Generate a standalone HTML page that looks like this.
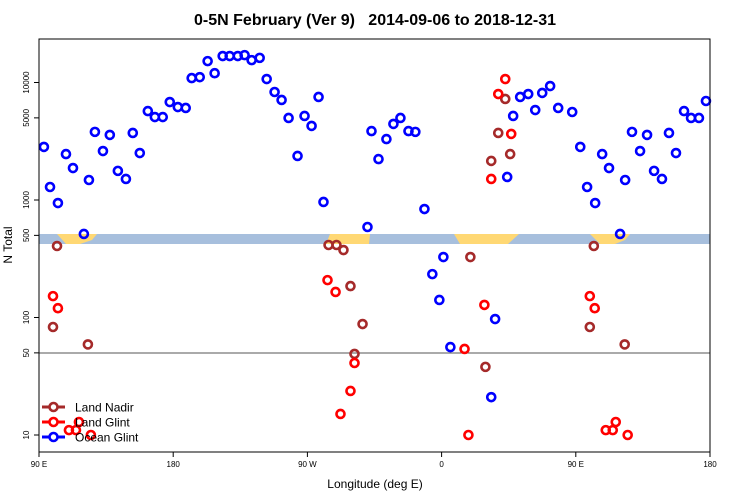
<!DOCTYPE html>
<html><head><meta charset="utf-8"><style>
body{margin:0;background:#fff;}
svg{display:block;font-family:"Liberation Sans",sans-serif;}
</style></head><body>
<svg id="chart" width="750" height="500" viewBox="0 0 750 500" xmlns="http://www.w3.org/2000/svg">
<text x="375" y="25" text-anchor="middle" font-size="16" font-weight="bold" style="white-space:pre">0-5N February (Ver 9)   2014-09-06 to 2018-12-31</text>
<g id="band">
<rect x="39" y="234" width="671" height="10" fill="#a7bfdd"/>
<path d="M57 234 L97 234 L92 240 L80 244 L66 244 Z" fill="#ffd874"/>
<path d="M330 234 L370 234 L369 244 L326 244 Z" fill="#ffd874"/>
<path d="M454 234 L519 234 L508 244 L460 244 Z" fill="#ffd874"/>
<path d="M590 234 L630 234 L625 240 L615 244 L600 244 Z" fill="#ffd874"/>
</g>
<line x1="39" x2="710" y1="353" y2="353" stroke="#555" stroke-width="1"/>
<g id="axes"></g>
<g id="marks"></g>
<rect x="39" y="39" width="671" height="413" fill="none" stroke="#000" stroke-width="1"/>
<text x="375" y="488" text-anchor="middle" font-size="12">Longitude (deg E)</text>
<text transform="translate(12,245) rotate(-90)" text-anchor="middle" font-size="12">N Total</text>
<g id="legend"></g>
</svg>
<script>
const xTickVals=[90,180,270,360,450,540];
const xTickLabels=["90 E","180","90 W","0","90 E","180"];
const yTickVals=[10,50,100,500,1000,5000,10000];
const yTickLabels=["10","50","100","500","1000","5000","10000"];
const seriesNames=["Land Nadir","Land Glint","Ocean Glint"];
const seriesColors=["#a52a2a","#ff0000","#0000ff"];
const nadirLon=[102.1,99.4,122.8,284.2,289.5,294.2,298.9,301.6,307,379.3,389.4,393.3,398,402.7,406,462.1,459.4,482.8];
const nadirVal=[406,83,59,414,414,375,185,49,88,327,38,2150,3720,7240,2460,406,83,59];
const glintLon=[99.4,102.7,110.1,114.8,116.8,124.8,283.5,288.9,292.2,298.9,301.6,375.4,378,388.7,393.3,398,402.7,406.7,459.4,462.7,470.1,474.8,476.8,484.8];
const glintVal=[152,120,11,11,12.9,10,208,165,15.1,23.7,41,54,10,128,1510,7980,10700,3650,152,120,11,11,12.9,10];
const oceanLon=[93.3,97.4,102.7,108.1,112.8,120.1,123.5,127.5,132.9,137.5,142.9,148.3,152.9,157.6,163,167.7,173,177.7,183.1,188.4,192.4,197.8,203.1,207.8,213.2,217.9,223.3,227.9,232.6,238,242.7,248,252.7,257.4,263.4,268.1,272.8,277.5,280.8,310.3,313,317.7,323,327.7,332.4,337.8,342.4,348.5,353.8,358.5,361.2,365.9,393.3,395.9,404,408,412.7,418.1,422.8,427.5,432.8,438.2,447.6,453,457.6,463,467.7,472.3,479.7,483.1,487.7,493.1,497.8,502.5,507.8,512.5,517.2,522.6,527.3,532.6,537.3];
const oceanVal=[2830,1290,942,2460,1870,514,1480,3800,2610,3580,1770,1510,3720,2510,5710,5080,5080,6820,6180,6070,10900,11100,15200,12000,16800,16800,16800,17100,15500,16200,10700,8300,7100,4990,2370,5190,4270,7530,962,589,3860,2230,3300,4440,4990,3860,3800,838,234,141,327,56,21,97,1570,5190,7530,7980,5830,8150,9330,6070,5610,2830,1290,942,2460,1870,514,1480,3800,2610,3580,1770,1510,3720,2510,5710,4990,4990,6960];

const NS="http://www.w3.org/2000/svg";
function xS(v){return 39+(v-90)*(671/450);}
function yS(v){return 435-(Math.log10(v)-1)*117.5;}
function mk(t,a,p){const e=document.createElementNS(NS,t);for(const k in a)e.setAttribute(k,a[k]);p.appendChild(e);return e;}
const axes=document.getElementById('axes');
xTickVals.forEach((v,i)=>{
  const l=mk('line',{x1:xS(v),x2:xS(v),y1:452,y2:457,stroke:'#000'},axes);
  
  
  const t=mk('text',{x:xS(v),y:467,'text-anchor':'middle','font-size':8},axes);
  
  
  t.textContent=xTickLabels[i];
});
yTickVals.forEach((v,i)=>{
  const l=mk('line',{x1:34,x2:39,y1:yS(v),y2:yS(v),stroke:'#000'},axes);
  
  
  const t=mk('text',{transform:`translate(29,${yS(v)}) rotate(-90)`,'text-anchor':'middle','font-size':8},axes);
  
  
  t.textContent=yTickLabels[i];
});
const marks=document.getElementById('marks');
const sets=[[nadirLon,nadirVal],[glintLon,glintVal],[oceanLon,oceanVal]];
const keys=['land-nadir','land-glint','ocean-glint'];
sets.forEach((s,si)=>{
  const g=mk('g',{},marks);
  
  
  s[0].forEach((lon,i)=>{
    const c=mk('circle',{cx:xS(lon),cy:yS(s[1][i]),r:4,fill:'none',stroke:seriesColors[si],'stroke-width':2.6},g);
    
    
  });
});
const lg=document.getElementById('legend');
seriesNames.forEach((n,i)=>{
  const y=407+i*15;
  const l=mk('line',{x1:42,x2:65,y1:y,y2:y,stroke:seriesColors[i],'stroke-width':3},lg);
  
  
  const c=mk('circle',{cx:53.5,cy:y,r:4,fill:'#fff',stroke:seriesColors[i],'stroke-width':2.6},lg);
  
  
  const t=mk('text',{x:75,y:y+4.5,'font-size':12},lg);
  
  
  t.textContent=n;
});
</script>
</body></html>
